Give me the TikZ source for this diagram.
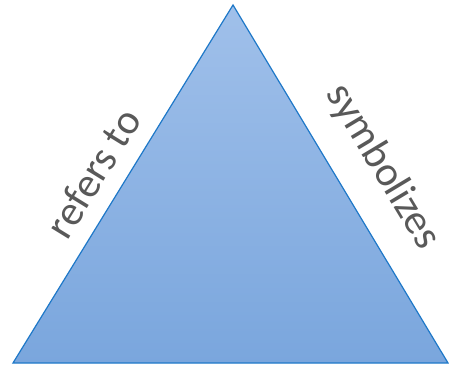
\documentclass[tikz,border=0pt]{standalone}
\usepackage{fontspec}
\setmainfont{Carlito}
\usepackage{tikz}

\definecolor{edgeblue}{RGB}{30,120,200}
\definecolor{topblue}{RGB}{160,192,234}
\definecolor{botblue}{RGB}{122,166,221}
\definecolor{labelgray}{RGB}{89,89,89}

\begin{document}
\begin{tikzpicture}[
    x=1pt,
    y=1pt,
    side/.style={
        text=labelgray,
        font=\fontsize{42}{50}\selectfont,
        inner sep=0pt
    }
]

\useasboundingbox (0,0) rectangle (449,367);

\coordinate (apex) at (233,362);
\coordinate (left) at (13,4);
\coordinate (right) at (448,4);

\shade[top color=topblue, bottom color=botblue, draw=edgeblue, line width=1.2pt]
    (left) -- (apex) -- (right) -- cycle;

\node[side, rotate=58.4] (refers) at (93,194) {refers to};
\node[side, rotate=-59] (symb) at (383,200) {symbolizes};

\end{tikzpicture}
\end{document}
